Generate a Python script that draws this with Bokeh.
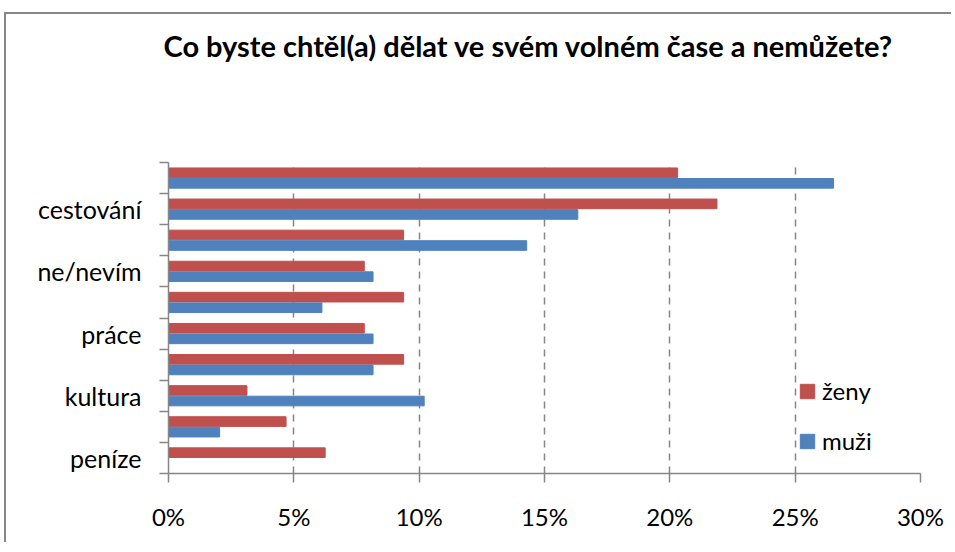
from bokeh.plotting import figure
from bokeh.layouts import column
from bokeh.models import (FixedTicker, NumeralTickFormatter, Legend, LegendItem,
                          ColumnDataSource, Range1d, Title)
from bokeh.transform import dodge
from bokeh.embed import file_html
from bokeh.resources import INLINE

# categories from bottom to top (only every other label is shown in the original)
categories = ["peníze", "", "kultura", "", "práce", "", "ne/nevím", "", "cestování", ""]
zeny = [0.0625, 0.0469, 0.0313, 0.0938, 0.0781, 0.0938, 0.0781, 0.0938, 0.2188, 0.2031]
muzi = [0.0, 0.0204, 0.1020, 0.0816, 0.0816, 0.0612, 0.0816, 0.1429, 0.1633, 0.2653]
x_ticks = [0, 0.05, 0.10, 0.15, 0.20, 0.25, 0.30]
title_text = "Co byste chtěl(a) dělat ve svém volném čase a nemůžete?"

pos = list(range(1, len(categories) + 1))
src = ColumnDataSource(dict(y=pos, zeny=zeny, muzi=muzi))

RED = "#C0504D"
BLUE = "#4F81BD"
GRAY = "#868686"
FONT = "Lato"

p = figure(width=945, height=528, output_backend="svg", toolbar_location=None, tools="",
           x_range=Range1d(0, 0.30), y_range=Range1d(0.5, len(categories) + 0.5),
           min_border_left=162, min_border_right=31, min_border_top=148,
           min_border_bottom=69)
p.toolbar.logo = None

r_z = p.hbar(y=dodge("y", 0.17, range=p.y_range), right="zeny", height=0.31,
             left=0, source=src, fill_color=RED, line_color=RED)
r_m = p.hbar(y=dodge("y", -0.17, range=p.y_range), right="muzi", height=0.31,
             left=0, source=src, fill_color=BLUE, line_color=BLUE)

# chart title (outermost) with an empty spacer panel between it and the plot area
p.title.text = title_text
p.title.text_font = FONT
p.title.text_font_style = "bold"
p.title.text_font_size = "29px"
p.title.text_color = "#000000"
p.title.align = "left"
p.title.offset = -5
p.title.standoff = 0
spacer = Title(text=" ", text_font_size="1px", standoff=97)
p.add_layout(spacer, "above")

# x axis
xa = p.xaxis[0]
xa.ticker = FixedTicker(ticks=x_ticks)
xa.formatter = NumeralTickFormatter(format="0%")
xa.axis_line_color = GRAY
xa.axis_line_width = 1.5
xa.major_tick_line_color = GRAY
xa.major_tick_line_width = 1.5
xa.major_tick_in = 0
xa.major_tick_out = 9
xa.minor_tick_line_color = None
xa.major_label_text_font = FONT
xa.major_label_text_font_size = "24px"
xa.major_label_text_color = "#000000"
xa.major_label_standoff = 19

# y axis
ya = p.yaxis[0]
ya.ticker = FixedTicker(ticks=pos, minor_ticks=[v - 0.5 for v in pos] + [len(pos) + 0.5])
ya.major_label_overrides = {v: c for v, c in zip(pos, categories)}
ya.axis_line_color = GRAY
ya.axis_line_width = 1.5
ya.major_tick_line_color = None
ya.major_tick_in = 0
ya.major_tick_out = 9
ya.minor_tick_line_color = GRAY
ya.minor_tick_line_width = 1.5
ya.minor_tick_in = 0
ya.minor_tick_out = 9
ya.major_label_text_font = FONT
ya.major_label_text_font_size = "25px"
ya.major_label_text_color = "#000000"
ya.major_label_standoff = 18

p.xgrid.grid_line_color = GRAY
p.xgrid.grid_line_width = 1.5
p.xgrid.grid_line_dash = "7 6"
p.xgrid.ticker = FixedTicker(ticks=x_ticks[1:])
p.ygrid.grid_line_color = None
p.outline_line_color = None

legend = Legend(items=[LegendItem(label="ženy", renderers=[r_z]),
                       LegendItem(label="muži", renderers=[r_m])],
                location=(630, 18), orientation="vertical")
legend.label_text_font = FONT
legend.label_text_font_size = "24px"
legend.label_text_color = "#000000"
legend.glyph_width = 18
legend.glyph_height = 18
legend.label_standoff = 6
legend.spacing = 21
legend.padding = 0
legend.margin = 0
legend.border_line_color = None
legend.background_fill_alpha = 0
p.add_layout(legend)

page = column(p, margin=(12, 0, 0, 4),
              styles={"border-left": "2px solid #878787", "border-top": "2px solid #878787"})

open("out.html", "w").write(file_html(page, INLINE))
